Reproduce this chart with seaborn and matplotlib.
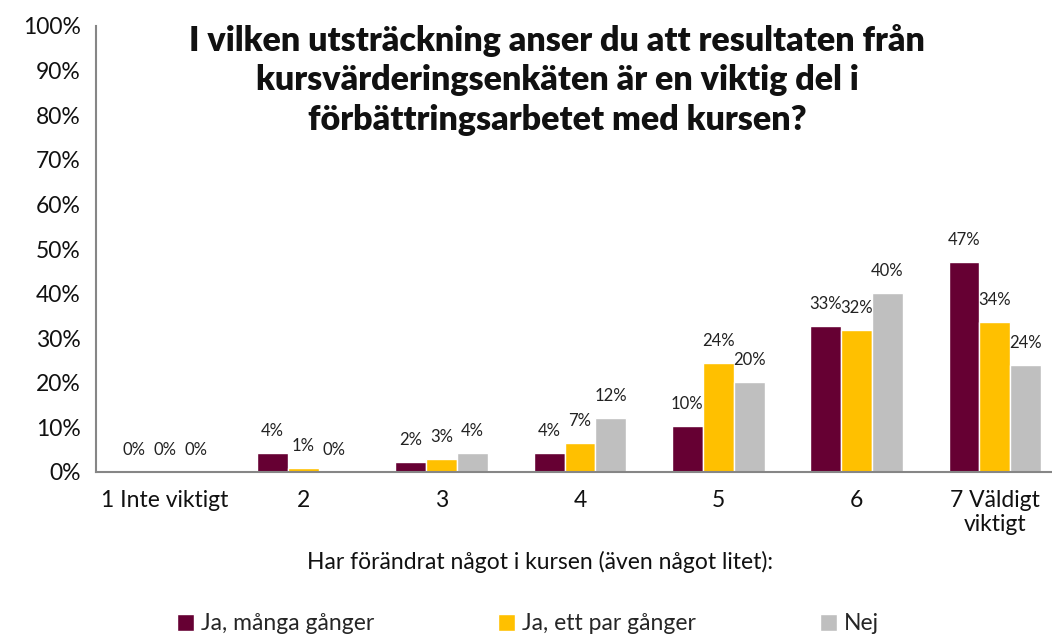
import matplotlib
matplotlib.use("Agg")
import matplotlib.pyplot as plt
import seaborn as sns
import pandas as pd
import numpy as np

categories = ["1 Inte viktigt", "2", "3", "4", "5", "6", "7 Väldigt\nviktigt"]
series_names = ["Ja, många gånger", "Ja, ett par gånger", "Nej"]
many_times = [0.0, 4.3, 2.2, 4.3, 10.3, 32.7, 47.0]
couple_times = [0.0, 0.9, 2.9, 6.6, 24.4, 31.8, 33.6]
no_change = [0.0, 0.0, 4.2, 12.1, 20.2, 40.1, 24.0]
yticks = list(range(0, 101, 10))
title = ("I vilken utsträckning anser du att resultaten från\n"
         "kursvärderingsenkäten är en viktig del i\n"
         "förbättringsarbetet med kursen?")
xlabel = "Har förändrat något i kursen (även något litet):"

colors = ["#660033", "#FFC000", "#BFBFBF"]

rows = []
for name, vals in zip(series_names, [many_times, couple_times, no_change]):
    for c, v in zip(categories, vals):
        rows.append({"cat": c, "series": name, "value": v})
df = pd.DataFrame(rows)

sns.set_theme(style="white")
plt.rcParams['font.family'] = ['Lato', 'DejaVu Sans']

fig = plt.figure(figsize=(10.52, 6.37), dpi=100)
ax = fig.add_axes([96/1052, 1-472/637, (1064-96)/1052, (472-26)/637])

sns.barplot(data=df, x="cat", y="value", hue="series", palette=colors,
            order=categories, hue_order=series_names, width=0.67,
            saturation=1, ax=ax, errorbar=None, legend=True)

for cont, vals in zip(ax.containers, [many_times, couple_times, no_change]):
    ax.bar_label(cont, labels=[f"{round(v):.0f}%" for v in vals], padding=10,
                 fontsize=12, color="#222222")

ax.set_ylim(0, 100)
ax.set_xlim(-0.5, len(categories) - 0.5)
ax.set_yticks(yticks)
ax.set_yticklabels([f"{t}%" for t in yticks], fontsize=16.5)
ax.set_xticks(range(len(categories)))
ax.set_xticklabels(categories, fontsize=16.5, linespacing=1.15)
ax.set_xticks(np.arange(-0.5, len(categories), 1.0), minor=True)
ax.tick_params(axis="x", which="major", length=0, pad=13)
ax.tick_params(axis="x", which="minor", length=7, width=1.5, color="#868686", direction="out")
ax.tick_params(axis="y", which="major", length=6, width=1.5, color="#868686", direction="out", pad=5)
for t in ax.get_xticklabels() + ax.get_yticklabels():
    t.set_color("#111111")

sns.despine(ax=ax, top=True, right=True)
for s in ["left", "bottom"]:
    ax.spines[s].set_color("#868686")
    ax.spines[s].set_linewidth(1.5)

ax.set_xlabel(xlabel, fontsize=16.5, color="#111111")
ax.xaxis.set_label_coords((540-96)/(1064-96), (472-551)/(472-26))
ax.set_ylabel("")

fig.text(557/1052, 1-80/637, title, ha="center", va="center", fontsize=24.5,
         fontweight="heavy", linespacing=1.3, color="#111111")

handles, labels = ax.get_legend_handles_labels()
ax.get_legend().remove()
fig.legend(handles, labels, loc="center", bbox_to_anchor=(528/1052, 1-624/637),
           ncol=3, frameon=False, fontsize=16.5, handlelength=0.75, handleheight=0.75,
           handletextpad=0.3, columnspacing=5.4)

fig.savefig("out.png", dpi=100)
